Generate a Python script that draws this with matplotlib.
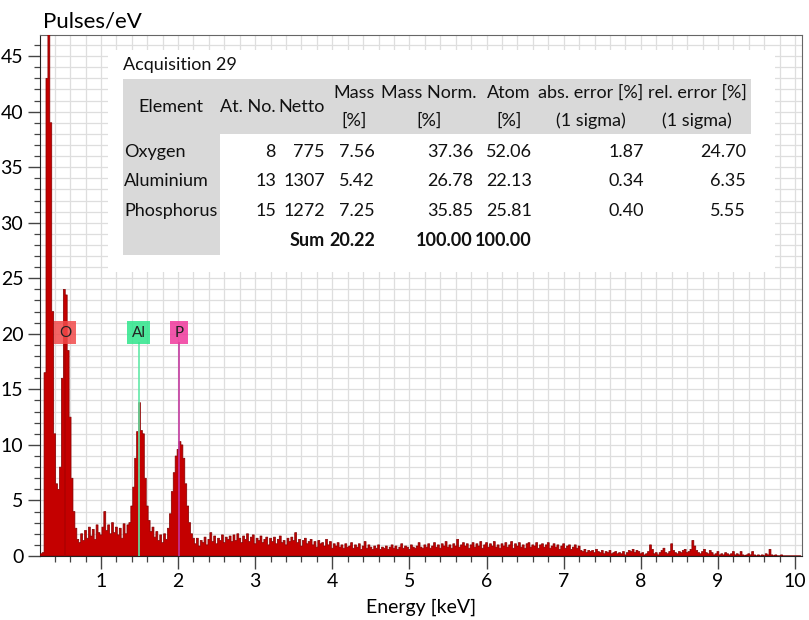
import numpy as np
import matplotlib.pyplot as plt
from matplotlib.patches import Rectangle
from matplotlib.ticker import MultipleLocator

plt.rcParams['font.family'] = ['Lato', 'DejaVu Sans']

# ---- spectrum (counts per channel, 25 eV channels starting at 0.200 keV)
E_START, E_STEP = 0.200, 0.025
counts = [
    # 0.200 - 0.700 : C/O low-energy peaks
    0.0, 0.2, 0.3, 16.5, 43.0, 60.0, 39.0, 22.0, 11.0, 6.5, 6.0, 8.0, 16.0, 24.0, 23.5,
    18.5, 12.5, 7.0, 4.0, 2.5, 1.5,
    # 0.725 - 1.350
    1.2, 2.0, 1.4, 2.3, 1.6, 2.6, 1.8, 2.4, 1.5, 2.8, 2.1, 1.9, 2.6, 4.0, 2.3, 2.8, 2.0,
    3.0, 2.1, 2.6, 1.9, 2.5, 1.6, 2.9, 2.0, 2.8,
    # 1.375 - 2.200 : Al and P peaks
    3.0, 4.5, 6.2, 8.8, 11.2, 13.8, 11.3, 11.0, 7.0, 4.5, 3.2, 2.2, 2.6, 1.7, 2.2, 1.4,
    1.9, 1.2, 2.0, 1.5, 2.5, 3.8, 5.8, 7.5, 9.0, 9.6, 10.3, 10.0, 8.8, 6.5, 4.5, 3.0, 2.0, 1.6,
    # 2.225 - 10.075 : background
    1.1, 1.6, 0.9, 1.4, 1.2, 1.7, 1.0, 1.5, 2.1, 1.3, 1.8, 1.1, 1.6, 1.4, 1.9, 1.2, 1.7, 1.5, 1.8, 1.3,
    1.9, 1.4, 2.0, 1.6, 1.2, 1.8, 1.5, 2.0, 1.3, 1.7, 1.9, 1.1, 1.6, 1.4, 1.8, 1.2, 1.5, 1.7, 1.0, 1.6,
    1.3, 1.7, 1.1, 1.5, 1.8, 1.2, 1.4, 1.0, 1.6, 1.3, 1.7, 1.4, 2.1, 1.2, 1.5, 0.9, 1.4, 1.6, 1.1, 1.3,
    1.5, 1.0, 1.3, 0.8, 1.4, 1.1, 1.2, 0.9, 1.5, 1.0, 1.3, 0.7, 1.1, 0.9, 1.2, 0.8, 1.0, 0.7, 1.1, 0.8,
    0.9, 1.2, 0.7, 1.0, 0.8, 1.1, 0.6, 0.9, 1.3, 0.7, 1.0, 0.8, 0.6, 0.9, 0.7, 1.0, 0.6, 0.8, 0.7, 0.9,
    0.6, 0.8, 1.0, 0.7, 0.9, 0.6, 0.8, 1.1, 0.7, 0.9, 0.8, 0.6, 1.0, 0.8, 0.7, 0.9, 1.2, 0.8, 0.7, 1.0,
    0.8, 1.1, 0.7, 0.9, 1.2, 0.8, 1.0, 0.7, 1.1, 0.9, 1.3, 0.8, 1.0, 0.7, 1.1, 0.9, 1.5, 0.8, 1.0, 1.2,
    0.9, 1.1, 0.7, 1.0, 1.2, 0.8, 1.1, 0.9, 1.3, 0.7, 1.0, 1.2, 0.8, 1.1, 0.9, 1.3, 0.8, 1.0, 0.7, 1.1,
    0.9, 1.2, 0.8, 1.0, 1.3, 0.7, 1.1, 0.9, 1.2, 0.8, 1.0, 0.7, 1.1, 1.2, 0.8, 1.0, 0.9, 1.2, 0.7, 1.0,
    1.1, 0.8, 1.0, 1.2, 0.7, 0.9, 1.1, 0.8, 1.0, 0.6, 0.9, 1.1, 0.7, 0.9, 1.0, 0.6, 0.8, 1.0, 0.7, 0.9,
    0.5, 0.4, 0.6, 0.3, 0.5, 0.4, 0.5, 0.3, 0.6, 0.4, 0.3, 0.5, 0.2, 0.4, 0.3, 0.5, 0.2, 0.3, 0.4, 0.2,
    0.3, 0.2, 0.4, 0.1, 0.3, 0.5, 0.4, 0.6, 0.3, 0.5, 0.4, 0.2, 0.3, 0.1, 0.2, 0.4, 1.0, 0.6, 0.2, 0.3,
    0.1, 0.3, 0.5, 0.7, 0.3, 0.2, 0.4, 1.1, 0.5, 0.3, 0.2, 0.4, 0.3, 0.5, 0.6, 0.3, 0.4, 0.6, 1.4, 0.9,
    0.5, 0.3, 0.2, 0.4, 0.6, 0.3, 0.2, 0.5, 0.3, 0.1, 0.2, 0.4, 0.1, 0.2, 0.1, 0.3, 0.2, 0.1, 0.2, 0.4,
    0.1, 0.2, 0.1, 0.4, 0.1, 0.0, 0.1, 0.2, 0.1, 0.4, 0.1, 0.0, 0.1, 0.0, 0.1, 0.0, 0.2, 0.1, 0.6, 0.1,
    0.0, 0.1, 0.0, 0.0, 0.1, 0.0, 0.0, 0.0, 0.0, 0.0, 0.0, 0.0, 0.0, 0.0, 0.0,
]
energy = E_START + E_STEP * np.arange(len(counts))

# ---- element markers
elements = ['O', 'Al', 'P']
line_kev = [0.535, 1.490, 2.010]
marker_box = ['#f24a4a', '#2fe68c', '#f0389c']
marker_line = ['#b00000', '#5fe8a6', '#c2369e']

# ---- quantification table
tbl_elements = ['Oxygen', 'Aluminium', 'Phosphorus']
at_no = ['8', '13', '15']
netto = ['775', '1307', '1272']
mass = ['7.56', '5.42', '7.25']
mass_norm = ['37.36', '26.78', '35.85']
atom = ['52.06', '22.13', '25.81']
abs_err = ['1.87', '0.34', '0.40']
rel_err = ['24.70', '6.35', '5.55']
sum_row = ['Sum', '20.22', '100.00', '100.00']

# =======================
W, H = 809, 620
fig = plt.figure(figsize=(W / 100, H / 100), dpi=100)
ax = fig.add_axes([40 / W, 1 - 556 / H, (802 - 40) / W, (556 - 35) / H])


def fx(x, y):
    return x / W, 1 - y / H


ax.set_xlim(0.21, 10.09)
ax.set_ylim(0, 46.9)
ax.xaxis.set_major_locator(MultipleLocator(1))
ax.xaxis.set_minor_locator(MultipleLocator(0.2))
ax.yaxis.set_major_locator(MultipleLocator(5))
ax.yaxis.set_minor_locator(MultipleLocator(1))
ax.grid(which='both', color='#dedede', lw=0.9, zorder=0)
ax.set_axisbelow(True)
ax.tick_params(which='major', length=9, width=1, color='#444444', labelsize=14, pad=3)
ax.tick_params(which='minor', length=4.5, width=0.9, color='#444444')
for s in ['left', 'bottom']:
    ax.spines[s].set_color('#222222')
for s in ['top', 'right']:
    ax.spines[s].set_color('#666666')

# white panel behind the table
ax.add_patch(Rectangle(fx(108, 272), (775 - 108) / W, (272 - 50) / H,
                       transform=fig.transFigure, fc='white', ec='none', zorder=1))

# spectrum
ax.fill_between(energy, counts, step='mid', fc='#c40000', ec='#820000', lw=0.5, zorder=3)

# element lines and labels
for el, e, cb, cl in zip(elements, line_kev, marker_box, marker_line):
    ax.plot([e, e], [0, 19.2], color=cl, lw=1.3, alpha=0.9, zorder=4)
    ax.text(e, 20.1, el, ha='center', va='center', fontsize=11, color='#222222', zorder=5,
            bbox=dict(boxstyle='square,pad=0.3', fc=cb, ec='none', alpha=0.85))

ax.text(*fx(43, 22), 'Pulses/eV', transform=fig.transFigure, ha='left', va='center', fontsize=16)
ax.text(*fx(421, 607), 'Energy [keV]', transform=fig.transFigure, ha='center', va='center', fontsize=14)

# ---- table
GREY = '#d9d9d9'
ax.add_patch(Rectangle(fx(123, 134), (751 - 123) / W, (134 - 79) / H, transform=fig.transFigure,
                       fc=GREY, ec='none', zorder=6, clip_on=False))
ax.add_patch(Rectangle(fx(123, 255), (220 - 123) / W, (255 - 79) / H, transform=fig.transFigure,
                       fc=GREY, ec='none', zorder=6, clip_on=False))


def tx(x, y, s, ha='left', bold=False):
    ax.text(*fx(x, y), s, transform=fig.transFigure, ha=ha, va='center', fontsize=13,
            fontweight='bold' if bold else 'normal', color='#111111', zorder=7)


tx(123, 65, 'Acquisition 29')
tx(171, 107, 'Element', 'center')
tx(276, 107, 'At. No.', 'right')
tx(325, 107, 'Netto', 'right')
headers = [(354, 'Mass', '[%]'), (429, 'Mass Norm.', '[%]'), (509, 'Atom', '[%]'),
           (591, 'abs. error [%]', '(1 sigma)'), (697, 'rel. error [%]', '(1 sigma)')]
for cx, l1, l2 in headers:
    tx(cx, 93, l1, 'center')
    tx(cx, 121, l2, 'center')

col_right = [276, 325, 375, 473, 532, 644, 746]
row_y = [152, 181.5, 211]
for i, name in enumerate(tbl_elements):
    tx(124, row_y[i], name)
    vals = [at_no[i], netto[i], mass[i], mass_norm[i], atom[i], abs_err[i], rel_err[i]]
    for xr, v in zip(col_right, vals):
        tx(xr, row_y[i], v, 'right')
for xr, v in zip(col_right[1:5], sum_row):
    tx(xr, 241, v, 'right', bold=True)

fig.savefig('out.png', dpi=100)
